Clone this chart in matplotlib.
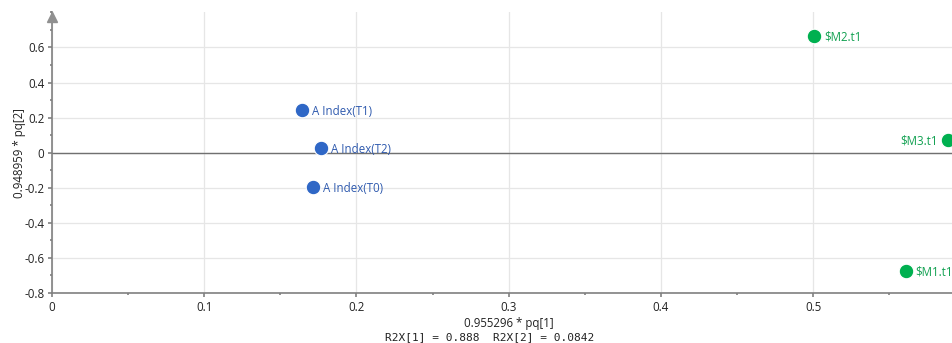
import matplotlib.pyplot as plt
from matplotlib.ticker import MultipleLocator

plt.rcParams['font.family'] = ['Open Sans', 'DejaVu Sans']

# score values
blue_labels = ['A Index(T1)', 'A Index(T2)', 'A Index(T0)']
blue_x = [0.1643, 0.1767, 0.1715]
blue_y = [0.245, 0.028, -0.194]

green_labels = ['$M2.t1', '$M3.t1', '$M1.t1']
green_x = [0.5007, 0.589, 0.561]
green_y = [0.666, 0.074, -0.672]

xticks = [0, 0.1, 0.2, 0.3, 0.4, 0.5]
yticks = [-0.8, -0.6, -0.4, -0.2, 0, 0.2, 0.4, 0.6]

BLUE = '#2F67C6'
BLUE_TXT = '#2F5AAE'
GREEN = '#00B050'
GREEN_TXT = '#10A050'
AXIS = '#808080'
FS = 8.3

fig = plt.figure(figsize=(9.52, 3.43), dpi=100)
ax = fig.add_axes([52 / 952, 1 - 293 / 343, 1 - 52 / 952, (293 - 12.4) / 343])
ax.set_xlim(0, 0.5913)
ax.set_ylim(-0.8, 0.8)

ax.set_xticks(xticks)
ax.set_xticklabels(['0', '0.1', '0.2', '0.3', '0.4', '0.5'])
ax.set_yticks(yticks)
ax.set_yticklabels(['-0.8', '-0.6', '-0.4', '-0.2', '0', '0.2', '0.4', '0.6'])
ax.xaxis.set_minor_locator(MultipleLocator(0.05))
ax.yaxis.set_minor_locator(MultipleLocator(0.1))
ax.tick_params(which='major', length=3, width=1.2, color=AXIS, labelsize=FS,
               labelcolor='#222222', pad=2.5)
ax.tick_params(which='minor', length=1.5, width=1.2, color=AXIS)

ax.grid(True, which='major', color='#E6E6E6', linewidth=0.9)
ax.set_axisbelow(True)
for s in ['top', 'right']:
    ax.spines[s].set_visible(False)
for s in ['left', 'bottom']:
    ax.spines[s].set_color(AXIS)
    ax.spines[s].set_linewidth(1.2)

# zero line and y-axis arrow
ax.axhline(0, color='#707070', linewidth=1, zorder=1)
ax.plot([0], [0.775], marker='^', markersize=7, color='#909090', clip_on=False, zorder=5)

ax.scatter(blue_x, blue_y, s=110, color=BLUE, edgecolors='white', linewidths=0.8,
           zorder=4, clip_on=False)
ax.scatter(green_x, green_y, s=110, color=GREEN, edgecolors='white', linewidths=0.8,
           zorder=4, clip_on=False)

for lab, x, y in zip(blue_labels, blue_x, blue_y):
    ax.annotate(lab, (x, y), xytext=(7, -1), textcoords='offset points',
                va='center', ha='left', fontsize=FS, color=BLUE_TXT)

offsets = {'$M3.t1': (-8, -1, 'right')}
for lab, x, y in zip(green_labels, green_x, green_y):
    dx, dy, ha = offsets.get(lab, (7, -1, 'left'))
    ax.annotate(lab.replace('$', r'\$'), (x, y), xytext=(dx, dy), textcoords='offset points',
                va='center', ha=ha, fontsize=FS, color=GREEN_TXT)

ax.set_ylabel('0.948959 * pq[2]', fontsize=FS, color='#222222')
ax.yaxis.set_label_coords(-0.029, 0.5)
fig.text(509 / 952, 1 - 324 / 343, '0.955296 * pq[1]', ha='center', va='center',
         fontsize=FS, color='#222222')
fig.text(490 / 952, 1 - 337 / 343, 'R2X[1] = 0.888  R2X[2] = 0.0842', ha='center',
         va='center', fontsize=8, color='#222222', family='DejaVu Sans Mono')

fig.savefig('out.png', dpi=100)
